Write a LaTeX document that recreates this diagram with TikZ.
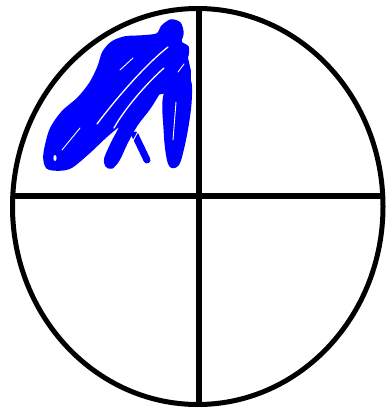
\documentclass[tikz,border=0pt]{standalone}
\usetikzlibrary{calc}
\begin{document}
\begin{tikzpicture}[x=1pt,y=-1pt,
  outline/.style={draw=black,line width=5pt},
  divider/.style={draw=black,line width=6.5pt},
  scrib/.style={draw=blue,line cap=round,line join=round},
  scribfill/.style={fill=blue,draw=blue,line width=1.5pt,line join=round},
  streak/.style={draw=white,line width=1.3pt,line cap=round}]
\useasboundingbox (0,0) rectangle (387,409);
\fill[white] (0,0) rectangle (387,409);
% scribble in the top-left quadrant: upper blob and lower band
\path[scribfill] plot[smooth cycle,tension=0.5] coordinates {
  (47,168) (44,155) (50,130) (62,112) (78,98) (90,83) (98,67) (103,52)
  (112,42) (125,37) (142,36) (157,34) (162,26) (171,20) (180,23) (183,33)
  (181,42) (188,47) (187,58) (178,68) (168,80) (160,92) (150,108) (137,125)
  (127,143) (119,160) (112,168) (106,166) (105,158) (112,142) (120,126)
  (107,136) (90,152) (72,167) (60,170)};
% joint between the band and the right loop
\path[scribfill] (158,94) -- (167,76) -- (178,66) -- (187,57) -- (190,70)
  -- (190,82) -- (178,82) -- (168,92) -- cycle;
% right loop
\path[scribfill] plot[smooth cycle,tension=0.6] coordinates {
  (165,92) (170,82) (180,78) (190,80) (191,100) (188,125) (183,150)
  (178,165) (170,166) (166,150) (164,125) (163,105)};
% leg
\draw[scrib,line width=7pt] (135,135) -- (147,160);
% white streaks inside the scribble
\draw[streak] (168,47) .. controls (145,65) and (115,100) .. (97,124);
\draw[streak] (164,68) .. controls (148,82) and (125,108) .. (114,128);
\draw[streak,line width=0.9pt] (176,102) -- (173,140);
\draw[streak,line width=0.9pt] (62,150) -- (80,128);
\draw[streak,line width=0.9pt] (120,70) -- (133,58);
\draw[streak,line width=0.9pt] (128,150) -- (140,128);
\draw[streak,line width=0.9pt] (178,72) -- (184,64);
\fill[white] (55,158) ellipse [x radius=1.6, y radius=3];
% circle and dividers
\draw[outline] (197.75,206.5) ellipse [x radius=185.25, y radius=198];
\coordinate (top) at (199,8);
\coordinate (bottom) at (199,404.5);
\coordinate (left) at (12.8,196);
\coordinate (right) at (382.7,196);
\draw[divider] (top) -- (bottom);
\draw[divider] (left) -- (right);
\end{tikzpicture}
\end{document}
